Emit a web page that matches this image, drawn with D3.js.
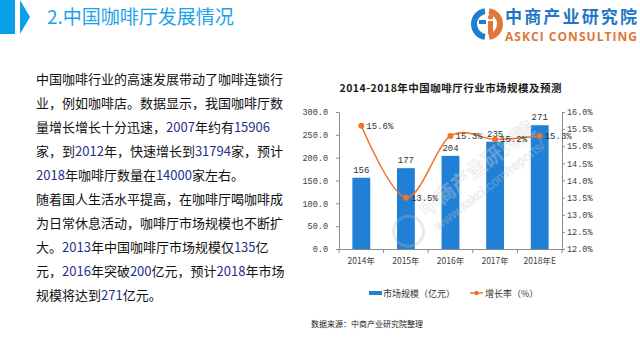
<!DOCTYPE html>
<html>
<head>
<meta charset="utf-8">
<script src="https://cdn.jsdelivr.net/npm/d3@7"></script>
<style>
  html, body { margin: 0; padding: 0; background: #ffffff; }
  svg { display: block; }
</style>
</head>
<body>
<div id="chart"></div>
<script>
const years = ["2014年", "2015年", "2016年", "2017年", "2018年E"];
const marketSize = [156, 177, 204, 235, 271];
const growthRate = [15.6, 13.5, 15.3, 15.2, 15.3];
const leftTicks = [0, 50, 100, 150, 200, 250, 300];
const rightTicks = [12, 12.5, 13, 13.5, 14, 14.5, 15, 15.5, 16];
const bodyLines = [
  "中国咖啡行业的高速发展带动了咖啡连锁行",
  "业，例如咖啡店。数据显示，我国咖啡厅数",
  "量增长增长十分迅速，2007年约有15906",
  "家，到2012年，快速增长到31794家，预计",
  "2018年咖啡厅数量在14000家左右。",
  "随着国人生活水平提高，在咖啡厅喝咖啡成",
  "为日常休息活动，咖啡厅市场规模也不断扩",
  "大。2013年中国咖啡厅市场规模仅135亿",
  "元，2016年突破200亿元，预计2018年市场",
  "规模将达到271亿元。"
];

const W = 640, H = 360;
const cjk = "'Noto Sans CJK SC', 'Noto Sans', sans-serif";
const mono = "'Liberation Mono', 'DejaVu Sans Mono', monospace";
const barColor = "#1f80d6";
const lineColor = "#f2722b";
const axisColor = "#8c8c8c";

const svg = d3.select("#chart").append("svg")
  .attr("width", W).attr("height", H)
  .attr("viewBox", `0 0 ${W} ${H}`);

// header
svg.append("rect").attr("x", 0).attr("y", 0).attr("width", 15).attr("height", 34).attr("fill", "#0aa0e9");
svg.append("path").attr("d", "M20,0 L30,17 L20,34 Z").attr("fill", "#0aa0e9");
svg.append("text")
  .attr("x", 47).attr("y", 24)
  .attr("font-family", cjk).attr("font-size", 19)
  .attr("fill", "#1ca2e8")
  .text("2.中国咖啡厅发展情况");

// logo
const logo = svg.append("g").attr("transform", "translate(487,24)");
const arc = d3.arc();
logo.append("path")
  .attr("d", arc({ innerRadius: 10, outerRadius: 16, startAngle: Math.PI * 1.05, endAngle: Math.PI * 1.95 }))
  .attr("fill", "#1e7fd0");
logo.append("path")
  .attr("d", arc({ innerRadius: 10, outerRadius: 16, startAngle: Math.PI * 0.05, endAngle: Math.PI * 0.95 }))
  .attr("fill", "#e0773a");
logo.append("rect").attr("x", 1).attr("y", -3).attr("width", 5).attr("height", 13).attr("fill", "#e0773a");
logo.append("circle").attr("cx", 3.5).attr("cy", -7).attr("r", 2.5).attr("fill", "#e0773a");
logo.append("rect").attr("x", -8).attr("y", -4).attr("width", 7).attr("height", 4).attr("fill", "#1e7fd0");
svg.append("text")
  .attr("x", 505).attr("y", 23)
  .attr("font-family", cjk).attr("font-size", 17).attr("font-weight", 700)
  .attr("fill", "#1e78c8")
  .attr("textLength", 132)
  .text("中商产业研究院");
svg.append("text")
  .attr("x", 505).attr("y", 41)
  .attr("font-family", "'Open Sans', sans-serif").attr("font-size", 12).attr("font-weight", 700)
  .attr("fill", "#e0773a")
  .attr("textLength", 132)
  .text("ASKCI CONSULTING");

// body text
const body = svg.append("text")
  .attr("font-family", cjk).attr("font-size", 13)
  .attr("fill", "#111111");
bodyLines.forEach((line, i) => {
  const row = body.append("tspan").attr("x", 36).attr("y", 84 + i * 24);
  line.split(/(\d+)/).filter((s) => s.length).forEach((part, j) => {
    const t = j === 0 ? row : body.append("tspan");
    t.text(part);
    if (/^\d+$/.test(part)) t.attr("fill", "#24308a");
  });
});

// chart
const plot = { left: 339, right: 562, top: 112, bottom: 249 };

svg.append("text")
  .attr("x", (plot.left + plot.right) / 2).attr("y", 92)
  .attr("text-anchor", "middle")
  .attr("font-family", cjk).attr("font-size", 10.5).attr("font-weight", 700)
  .attr("fill", "#1a1a1a")
  .attr("textLength", 222)
  .text("2014-2018年中国咖啡厅行业市场规模及预测");

const x = d3.scaleBand().domain(years)
  .range([plot.left, plot.right])
  .paddingInner(0.6).paddingOuter(0.3);
const yL = d3.scaleLinear().domain([0, 300]).range([plot.bottom, plot.top]);
const yR = d3.scaleLinear().domain([12, 16]).range([plot.bottom, plot.top]);

// bars
svg.append("g").selectAll("rect")
  .data(marketSize)
  .join("rect")
  .attr("x", (d, i) => x(years[i]))
  .attr("y", (d) => yL(d))
  .attr("width", x.bandwidth())
  .attr("height", (d) => yL(0) - yL(d))
  .attr("fill", barColor);

svg.append("g").selectAll("text")
  .data(marketSize)
  .join("text")
  .attr("x", (d, i) => x(years[i]) + x.bandwidth() / 2)
  .attr("y", (d) => yL(d) - 5)
  .attr("text-anchor", "middle")
  .attr("font-family", mono).attr("font-size", 9)
  .attr("fill", "#333333")
  .text((d) => d);

// watermark, faint, over the bars
const wm = svg.append("g")
  .attr("transform", "translate(455,190) rotate(-38)")
  .attr("opacity", 0.3);
wm.append("circle").attr("cx", -62).attr("cy", 4).attr("r", 15)
  .attr("fill", "none").attr("stroke", "#b8b8b8").attr("stroke-width", 3);
wm.append("text").attr("x", -40).attr("y", 4)
  .attr("font-family", cjk).attr("font-size", 20).attr("font-weight", 700)
  .attr("fill", "#ffffff").attr("stroke", "#b0b0b0").attr("stroke-width", 0.8)
  .text("中商产业研究院");
wm.append("text").attr("x", -38).attr("y", 22)
  .attr("font-family", "'Liberation Sans', sans-serif").attr("font-size", 13)
  .attr("fill", "#ffffff").attr("stroke", "#b0b0b0").attr("stroke-width", 0.6)
  .text("www.askci.com/reports/");

// axes
const axisStyle = (g) => {
  g.select(".domain").attr("stroke", axisColor);
  g.selectAll(".tick line").attr("stroke", axisColor);
  g.selectAll(".tick text")
    .attr("font-family", mono).attr("font-size", 8.5)
    .attr("fill", "#404040");
};

svg.append("g")
  .attr("transform", `translate(${plot.left},0)`)
  .call(d3.axisLeft(yL).tickValues(leftTicks).tickFormat(d3.format(".1f")).tickSize(3).tickSizeOuter(0).tickPadding(8))
  .call(axisStyle);

svg.append("g")
  .attr("transform", `translate(${plot.right},0)`)
  .call(d3.axisRight(yR).tickValues(rightTicks).tickFormat((d) => d3.format(".1f")(d) + "%").tickSize(3).tickSizeOuter(0).tickPadding(2))
  .call(axisStyle);

const xAxis = svg.append("g")
  .attr("transform", `translate(0,${plot.bottom})`)
  .call(d3.axisBottom(x).tickSize(0).tickSizeOuter(0).tickPadding(9))
  .call(axisStyle);
xAxis.selectAll(".tick text").attr("font-family", cjk).attr("font-size", 8.5);
xAxis.selectAll(".boundary")
  .data(d3.range(years.length + 1))
  .join("line")
  .attr("x1", (i) => plot.left + i * x.step())
  .attr("x2", (i) => plot.left + i * x.step())
  .attr("y1", 0).attr("y2", 4)
  .attr("stroke", axisColor);

// growth line
const line = d3.line()
  .x((d, i) => x(years[i]) + x.bandwidth() / 2)
  .y((d) => yR(d))
  .curve(d3.curveCardinal);

svg.append("path")
  .datum(growthRate)
  .attr("d", line)
  .attr("fill", "none")
  .attr("stroke", lineColor)
  .attr("stroke-width", 1.5);

svg.append("g").selectAll("circle")
  .data(growthRate)
  .join("circle")
  .attr("cx", (d, i) => x(years[i]) + x.bandwidth() / 2)
  .attr("cy", (d) => yR(d))
  .attr("r", 3)
  .attr("fill", lineColor);

svg.append("g").selectAll("text")
  .data(growthRate)
  .join("text")
  .attr("x", (d, i) => x(years[i]) + x.bandwidth() / 2 + 5)
  .attr("y", (d) => yR(d) + 3)
  .attr("font-family", mono).attr("font-size", 9)
  .attr("fill", "#333333")
  .text((d) => d3.format(".1f")(d) + "%");

// legend
const legend = svg.append("g").attr("transform", "translate(369,293)");
legend.append("rect").attr("x", 0).attr("y", -2).attr("width", 13).attr("height", 4).attr("fill", barColor);
legend.append("text").attr("x", 14).attr("y", 3.5)
  .attr("font-family", cjk).attr("font-size", 9).attr("fill", "#333333")
  .text("市场规模（亿元）");
legend.append("line").attr("x1", 101).attr("x2", 114).attr("y1", 0).attr("y2", 0)
  .attr("stroke", lineColor).attr("stroke-width", 1.5);
legend.append("circle").attr("cx", 107.5).attr("cy", 0).attr("r", 2.2).attr("fill", lineColor);
legend.append("text").attr("x", 116).attr("y", 3.5)
  .attr("font-family", cjk).attr("font-size", 9).attr("fill", "#333333")
  .text("增长率（%）");

// source
svg.append("text")
  .attr("x", 311).attr("y", 327)
  .attr("font-family", cjk).attr("font-size", 8).attr("fill", "#222222")
  .text("数据来源：中商产业研究院整理");
</script>
</body>
</html>
